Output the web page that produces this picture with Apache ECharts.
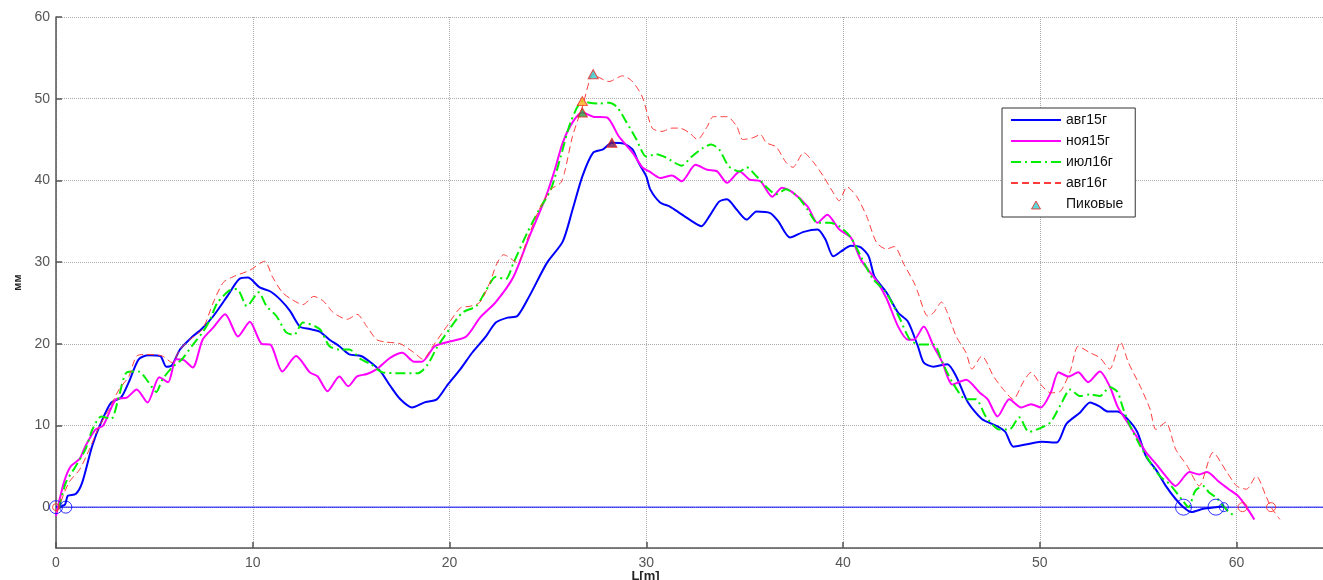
<!DOCTYPE html>
<html>
<head>
<meta charset="utf-8">
<script src="https://cdn.jsdelivr.net/npm/echarts@6/dist/echarts.min.js"></script>
<style>
html,body{margin:0;padding:0;background:#fff}
#chart{width:1323px;height:580px}
</style>
</head>
<body>
<div id="chart"></div>
<script>
// Профили по длине L[m], значения в мм
const aug15 = [[0,0],[0.45,0.3],[0.6,1.4],[1.0,1.6],[1.33,3.0],[1.84,7.5],[2.3,10.4],[2.8,12.8],[3.3,13.4],[3.7,15.3],[4.2,18.1],[4.7,18.6],[5.3,18.5],[5.6,17.2],[5.9,17.4],[6.3,19.3],[6.9,20.8],[7.4,21.8],[8.0,23.4],[8.7,25.8],[9.3,27.9],[9.75,28.1],[10.35,26.9],[10.9,26.4],[11.4,25.4],[11.9,24.0],[12.4,22.1],[12.9,21.8],[13.4,21.5],[13.9,20.5],[14.4,19.7],[14.9,18.7],[15.5,18.5],[16.0,17.7],[16.5,16.6],[17.0,14.8],[17.5,13.2],[18.1,12.2],[18.7,12.8],[19.35,13.2],[19.85,14.8],[20.55,16.9],[21.15,18.9],[21.85,20.9],[22.35,22.6],[22.95,23.2],[23.45,23.4],[24.05,25.8],[24.95,29.9],[25.75,32.5],[26.25,36.4],[26.75,40.5],[27.3,43.4],[27.8,43.8],[28.25,44.6],[28.85,44.5],[29.3,43.8],[29.6,42.2],[30.0,40.5],[30.2,38.9],[30.7,37.3],[31.2,36.8],[31.7,36.0],[32.2,35.2],[32.8,34.4],[33.2,35.6],[33.7,37.4],[34.1,37.7],[34.6,36.4],[35.1,35.2],[35.6,36.2],[36.3,36.0],[36.7,35.0],[37.3,33.0],[38.0,33.7],[38.7,34.0],[39.1,32.8],[39.5,30.7],[39.9,31.3],[40.4,32.0],[40.9,31.8],[41.3,30.7],[41.6,28.2],[42.2,26.3],[42.8,23.8],[43.3,22.7],[43.8,19.7],[44.1,17.7],[44.6,17.2],[45.3,17.5],[45.75,16.0],[46.35,12.8],[47.05,10.8],[47.85,9.9],[48.25,9.2],[48.65,7.4],[49.35,7.7],[50.05,8.0],[50.85,7.9],[51.35,10.2],[52.05,11.6],[52.55,12.8],[53.05,12.3],[53.45,11.7],[53.95,11.7],[54.45,10.8],[54.95,9.2],[55.4,6.2],[55.9,4.6],[56.4,2.6],[56.9,1.0],[57.3,0],[57.7,-0.6],[58.3,-0.2],[58.95,0],[59.35,0.1]];

const nov15 = [[0,-1.1],[0.4,3.0],[0.75,5.0],[1.2,5.9],[1.5,7.5],[2.0,9.5],[2.4,10.0],[3.05,13.2],[3.6,13.4],[4.1,14.4],[4.65,12.8],[5.25,15.9],[5.7,15.3],[6.1,18.1],[6.5,18.0],[6.95,17.1],[7.45,20.5],[8.0,22.0],[8.6,23.6],[9.25,20.9],[9.85,22.7],[10.45,20.0],[10.9,19.9],[11.5,16.6],[12.2,18.5],[12.9,16.5],[13.3,16.0],[13.8,14.2],[14.4,16.0],[14.85,14.8],[15.3,16.0],[15.8,16.3],[16.3,16.9],[17.0,18.3],[17.6,18.9],[18.2,17.8],[18.6,17.8],[19.25,19.7],[20.05,20.3],[20.85,20.9],[21.55,23.2],[22.35,25.1],[23.25,28.2],[24.05,33.1],[24.85,37.7],[25.35,41.3],[25.75,44.6],[26.25,47.1],[26.75,48.3],[27.3,47.8],[28.0,47.7],[28.6,45.4],[29.3,43.4],[29.8,41.6],[30.15,41.1],[30.7,40.3],[31.3,40.6],[31.8,39.9],[32.5,41.9],[33.1,41.3],[33.6,41.1],[34.1,39.7],[34.75,41.1],[35.25,40.1],[35.8,39.9],[36.4,38.0],[36.9,39.1],[37.4,38.6],[38.2,36.8],[38.7,34.8],[39.2,35.8],[39.8,34.0],[40.4,33.0],[40.9,30.3],[41.7,27.7],[42.2,25.6],[42.8,22.1],[43.3,20.5],[43.6,20.5],[44.1,22.1],[44.6,19.7],[45.05,17.7],[45.55,15.0],[46.25,15.6],[46.95,14.0],[47.35,13.2],[47.85,11.1],[48.45,13.2],[49.05,12.2],[49.55,12.6],[50.05,12.2],[50.55,14.0],[50.95,16.5],[51.45,16.0],[51.95,16.5],[52.45,15.3],[53.05,16.6],[53.55,14.8],[53.95,12.3],[54.45,10.4],[54.9,8.7],[55.4,6.7],[55.9,5.3],[56.4,3.8],[56.9,2.6],[57.6,4.3],[58.1,4.0],[58.5,4.3],[59.1,3.1],[59.6,2.2],[60.1,1.3],[60.5,0],[60.9,-1.5]];

const jul16 = [[0.15,-0.2],[0.5,3.0],[1.0,5.0],[1.5,7.1],[1.85,9.5],[2.3,11.1],[2.8,10.8],[3.2,13.6],[3.6,16.5],[4.2,16.6],[4.7,15.3],[5.1,14.1],[5.4,15.6],[5.9,17.1],[6.4,18.1],[6.9,19.7],[7.45,21.4],[7.8,22.8],[8.2,25.0],[8.8,26.5],[9.2,26.7],[9.7,24.6],[10.3,26.3],[10.7,24.6],[11.2,23.4],[11.7,21.4],[12.1,21.1],[12.55,22.6],[13.4,21.8],[13.9,19.7],[14.4,19.3],[14.9,19.3],[15.5,18.1],[16.0,17.5],[16.6,16.5],[17.5,16.4],[18.4,16.4],[18.9,17.5],[19.35,19.5],[20.0,21.8],[20.65,23.8],[21.35,24.6],[21.85,26.5],[22.35,28.2],[22.85,27.9],[23.25,29.9],[23.95,33.6],[24.55,36.4],[25.15,38.9],[25.65,42.9],[26.15,47.1],[26.75,49.7],[27.1,49.5],[27.6,49.4],[28.1,49.5],[28.5,49.0],[29.0,47.1],[29.5,45.0],[30.0,42.9],[30.5,43.2],[31.0,42.8],[31.8,41.8],[32.3,42.9],[32.9,44.0],[33.3,44.4],[33.7,43.8],[34.2,41.7],[34.75,41.1],[35.1,41.6],[35.6,40.5],[36.1,39.2],[36.6,38.3],[37.1,38.9],[37.7,38.0],[38.2,36.4],[38.7,34.8],[39.3,34.8],[39.8,34.4],[40.4,33.0],[40.9,30.7],[41.5,28.0],[42.1,26.5],[42.4,25.4],[42.9,23.0],[43.4,20.5],[43.9,19.9],[44.6,19.9],[45.05,17.7],[45.55,15.3],[46.25,13.2],[46.75,13.2],[47.25,11.1],[47.95,9.5],[48.45,9.5],[48.95,11.0],[49.45,9.2],[50.05,9.7],[50.55,10.4],[51.05,12.5],[51.55,14.4],[52.05,13.6],[52.55,13.8],[53.05,13.6],[53.55,14.7],[53.95,14.1],[54.2,12.3],[54.5,10.4],[55.1,7.5],[55.6,5.5],[56.1,3.8],[56.6,2.8],[57.2,1.0],[57.55,0],[57.9,2.0],[58.3,2.6],[58.6,1.8],[59.0,1.1],[59.3,0.2],[59.6,-0.6],[59.8,-0.9]];

const aug16 = [[0.05,-0.6],[0.65,3.0],[1.2,4.6],[1.7,7.1],[2.2,9.9],[2.7,12.0],[3.2,14.4],[3.7,16.0],[4.1,18.5],[4.6,18.7],[5.4,18.5],[5.9,17.7],[6.3,19.3],[6.8,20.5],[7.45,21.8],[8.0,25.1],[8.5,27.5],[9.0,28.2],[9.85,29.0],[10.6,30.1],[11.0,28.2],[11.5,26.3],[12.0,25.4],[12.55,24.8],[13.1,25.8],[13.6,25.2],[14.1,23.8],[14.8,23.0],[15.3,23.6],[15.8,22.1],[16.3,20.5],[16.8,20.2],[17.5,20.0],[18.2,18.9],[18.65,18.1],[19.15,19.7],[19.85,22.1],[20.55,24.4],[21.05,24.6],[21.55,25.1],[22.05,27.5],[22.4,29.8],[22.75,30.9],[22.95,30.7],[23.45,29.9],[23.95,32.8],[24.55,36.4],[25.15,38.9],[25.65,39.7],[25.85,41.0],[26.25,45.4],[26.75,49.0],[27.3,53.0],[27.6,52.6],[28.1,52.1],[28.8,52.8],[29.3,52.1],[29.8,50.2],[30.3,46.4],[30.8,46.0],[31.3,46.4],[31.7,46.4],[32.2,45.8],[32.6,45.0],[33.1,46.6],[33.4,47.8],[34.1,47.8],[34.6,46.6],[34.9,45.0],[35.4,45.2],[35.8,45.6],[36.1,44.6],[36.6,44.1],[37.1,42.2],[37.45,41.6],[38.0,43.4],[38.5,42.2],[39.0,40.5],[39.5,38.5],[39.8,37.5],[40.2,39.2],[40.7,38.0],[41.2,35.6],[41.7,32.4],[42.2,31.6],[42.6,31.9],[43.1,29.7],[43.6,27.5],[43.8,26.3],[44.3,23.4],[44.6,23.8],[45.0,25.1],[45.3,23.8],[45.75,20.9],[46.25,18.9],[46.55,16.9],[47.05,18.5],[47.65,16.0],[48.15,14.4],[48.65,13.2],[49.15,15.3],[49.55,16.5],[50.05,15.0],[50.55,14.0],[51.05,14.2],[51.55,16.7],[51.95,19.7],[52.55,18.9],[53.05,18.3],[53.55,16.9],[54.1,20.2],[54.5,17.7],[55.1,14.8],[55.6,12.0],[55.9,9.5],[56.4,10.4],[56.9,7.1],[57.5,5.0],[58.1,2.6],[58.8,6.7],[59.5,4.3],[60.0,2.6],[60.5,2.2],[61.0,3.8],[61.5,1.3],[61.75,0],[62.2,-1.5]];

// Нулевой уровень
const zeroLine = [[0,0],[65,0]];

// Пиковые значения каждого профиля
const peakNames = ['авг15г','ноя15г','июл16г','авг16г'];
const peakPoints = [[28.25,44.6],[26.75,48.3],[26.75,49.7],[27.3,53.0]];

// Точки пересечения нуля
const zeroBlueL = [0, 0.5, 57.3, 58.95, 59.35];
const zeroRedL = [0, 60.3, 61.75];

// Подписи осей
const xTicks = [0, 10, 20, 30, 40, 50, 60];
const xName = 'L[m]';
const yName = 'мм';

const FONT = '"Liberation Sans", Arial, sans-serif';
const peakFill = ['#6b1a55', '#2a9a3a', '#ffae1a', '#33cccc'];
const zeroBlueSize = [13, 12, 16, 16, 9];
const zeroRedSize = [7, 9, 9];

const chart = echarts.init(document.getElementById('chart'), null, {renderer: 'canvas'});

function lineSeries(name, data, color, width, type, z) {
  return {
    name: name, type: 'line', data: data, symbol: 'none', smooth: 0.25,
    lineStyle: {color: color, width: width, type: type},
    itemStyle: {color: color},
    emphasis: {disabled: true}, silent: true, z: z
  };
}

// Линия без маркера в легенде
function lineLegendItem(name) {
  return {name: name, itemStyle: {opacity: 0}};
}

const option = {
  animation: false,
  backgroundColor: '#fff',
  textStyle: {fontFamily: FONT},
  grid: {left: 56, top: 17, width: 1279, height: 531, containLabel: false, outerBoundsMode: 'none'},
  xAxis: {
    type: 'value', min: 0, max: 65, interval: 10,
    name: xName, nameLocation: 'middle', nameGap: 22, nameMoveOverlap: false,
    nameTextStyle: {fontFamily: FONT, fontSize: 13, fontWeight: 'bold', color: '#222', padding: [0, 100, 0, 0]},
    axisLine: {onZero: false, lineStyle: {color: '#555', width: 1.5}},
    axisTick: {inside: true, length: 6, lineStyle: {color: '#555', width: 1.5}},
    axisLabel: {
      fontFamily: FONT, fontSize: 14, color: '#555', margin: 8, showMaxLabel: false,
      formatter: v => (xTicks.indexOf(v) >= 0 ? String(v) : '')
    },
    splitLine: {show: true, lineStyle: {color: '#aaa', type: 'dotted', width: 1}}
  },
  yAxis: {
    type: 'value', min: -5, max: 60, splitNumber: 6,
    name: yName, nameLocation: 'middle', nameGap: 33, nameRotate: 90, nameMoveOverlap: false,
    nameTextStyle: {fontFamily: FONT, fontSize: 11, fontWeight: 'bold', color: '#222'},
    axisLine: {onZero: false, lineStyle: {color: '#555', width: 1.5}},
    axisTick: {inside: true, length: 6, lineStyle: {color: '#555', width: 1.5}},
    axisLabel: {fontFamily: FONT, fontSize: 14, color: '#555', margin: 6, showMinLabel: false},
    splitLine: {show: true, lineStyle: {color: '#aaa', type: 'dotted', width: 1}}
  },
  legend: {
    orient: 'vertical', left: 1002, top: 108,
    padding: [5, 12, 5, 8], itemGap: 7, itemWidth: 50, itemHeight: 14, itemTextGap: 3,
    backgroundColor: '#fff', borderColor: '#333', borderWidth: 1, borderRadius: 0,
    textStyle: {fontFamily: FONT, fontSize: 14, color: '#111'},
    selectedMode: false,
    data: [
      lineLegendItem('авг15г'),
      lineLegendItem('ноя15г'),
      lineLegendItem('июл16г'),
      lineLegendItem('авг16г'),
      {name: 'Пиковые', icon: 'path://M0,0M50,14M20.5,11.5L25,3.5L29.5,11.5Z',
       itemStyle: {color: '#33cccc', borderColor: '#e22', borderWidth: 1}}
    ]
  },
  series: [
    lineSeries('ноль', zeroLine, '#0000ff', 1, 'solid', 2),
    lineSeries('авг15г', aug15, '#0000ff', 2, 'solid', 3),
    lineSeries('ноя15г', nov15, '#ff00ff', 2, 'solid', 3),
    lineSeries('июл16г', jul16, '#00ee00', 2, [10, 4, 2, 4], 3),
    lineSeries('авг16г', aug16, '#ff3b3b', 1, [7, 4], 3),
    {
      name: 'нулиС', type: 'scatter', symbol: 'circle', z: 4, silent: true,
      data: zeroBlueL.map((l, i) => ({value: [l, 0], symbolSize: zeroBlueSize[i]})),
      itemStyle: {color: 'rgba(0,0,0,0)', borderColor: '#0000ff', borderWidth: 1}
    },
    {
      name: 'нулиК', type: 'scatter', symbol: 'circle', z: 4, silent: true,
      data: zeroRedL.map((l, i) => ({value: [l, 0], symbolSize: zeroRedSize[i]})),
      itemStyle: {color: 'rgba(0,0,0,0)', borderColor: '#ff2020', borderWidth: 1}
    },
    {
      name: 'Пиковые', type: 'scatter', symbol: 'triangle', symbolSize: [10, 9], z: 5, silent: true,
      data: peakPoints.map((p, i) => ({name: peakNames[i], value: p, itemStyle: {color: peakFill[i]}})),
      itemStyle: {color: '#33cccc', borderColor: '#e22', borderWidth: 1}
    }
  ]
};

chart.setOption(option);
</script>
</body>
</html>
